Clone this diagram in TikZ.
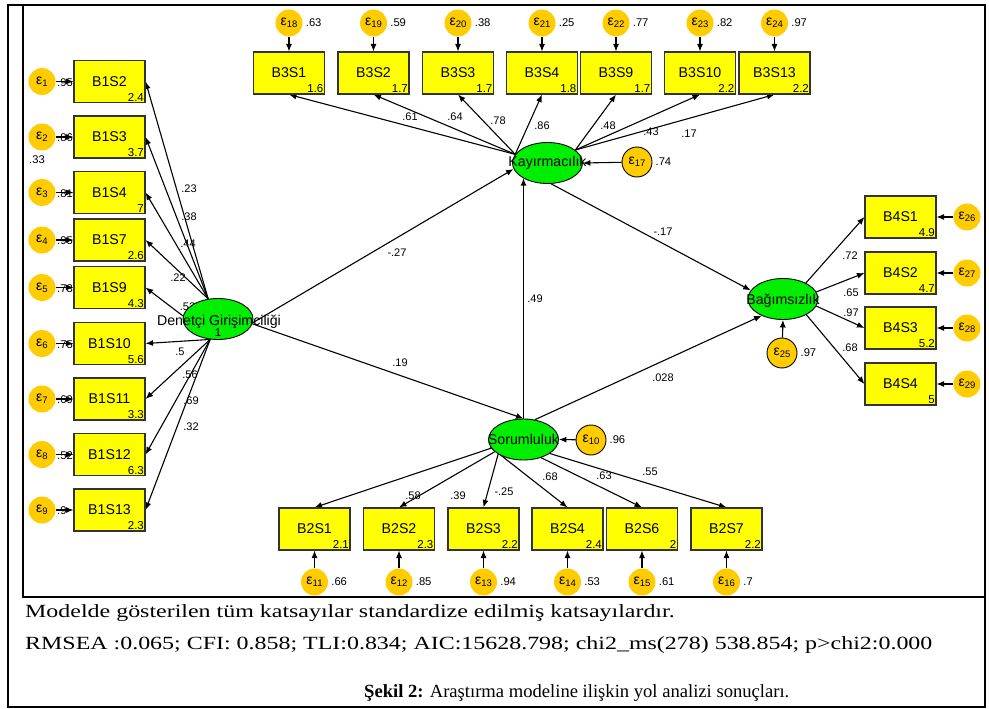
\documentclass[tikz,border=0pt]{standalone}
\usepackage{fontspec}
\usepackage{graphicx}
\setmainfont{Liberation Serif}
\newfontfamily\arialf{Liberation Sans}
\usetikzlibrary{shapes.geometric,arrows.meta}
\pgfdeclarelayer{background}
\pgfsetlayers{background,main}
\definecolor{boxyellow}{RGB}{255,255,0}
\definecolor{latgreen}{RGB}{0,238,0}
\definecolor{epsgold}{RGB}{255,204,0}
\newcommand{\epsn}[1]{{\fontsize{14}{14}\selectfont ε}\raisebox{-2.2pt}{\fontsize{9.5}{9.5}\selectfont #1}}
\begin{document}
\begin{tikzpicture}[x=1pt,y=-1pt,
 obs/.style={draw=black!80,fill=boxyellow,line width=1.1pt,minimum width=71pt,minimum height=42pt,inner sep=0pt,font=\arialf\fontsize{14.2}{14.2}\selectfont},
 mean/.style={anchor=south east,inner sep=1.5pt,font=\arialf\fontsize{11.5}{11.5}\selectfont},
 lat/.style={ellipse,draw=black,fill=latgreen,line width=0.9pt,minimum width=70pt,minimum height=41pt,inner sep=0pt},
 latname/.style={anchor=base,inner sep=0pt,font=\arialf\fontsize{14.2}{14.2}\selectfont},
 eps/.style={circle,fill=epsgold,minimum size=27pt,inner sep=0pt,font=\arialf},
 epsb/.style={eps,draw=black,line width=0.9pt,minimum size=30pt},
 elbl/.style={inner sep=1pt,xshift=2pt,font=\arialf\fontsize{11.2}{11.2}\selectfont},
 plbl/.style={inner sep=0pt,font=\arialf\fontsize{11}{11}\selectfont},
 conn/.style={-{Latex[length=7.5pt,width=6pt]},line width=1.1pt},
 frame/.style={line width=2pt}
]
\useasboundingbox (0,0) rectangle (989,709);

% left column
\foreach \n/\y/\m/\e in {B1S2/81.5/2.4/1, B1S3/137/3.7/2, B1S4/192.5/7/3, B1S7/240/2.6/4, B1S9/287.5/4.3/5, B1S10/343.5/5.6/6, B1S11/399/3.3/7, B1S12/454.5/6.3/8, B1S13/510/2.3/9}
{
 \node[obs,label={[mean]south east:\m}] (\n) at (109.5,\y) {\n};
 \node[eps] (e\e) at (42,\y) {\epsn{\e}};
}
% top row
\foreach \n/\x/\m/\e/\v in {B3S1/289/1.6/18/.63, B3S2/373.5/1.7/19/.59, B3S3/458/1.7/20/.38, B3S4/542/1.8/21/.25, B3S9/616/1.7/22/.77, B3S10/700/2.2/23/.82, B3S13/774.5/2.2/24/.97}
{
 \node[obs,label={[mean]south east:\m}] (\n) at (\x,73) {\n};
 \node[eps,label={[elbl]right:\v}] (e\e) at (\x,23) {\epsn{\e}};
}
% bottom row
\foreach \n/\x/\m/\e/\v in {B2S1/314.5/2.1/11/.66, B2S2/399/2.3/12/.85, B2S3/483.5/2.2/13/.94, B2S4/567.5/2.4/14/.53, B2S6/642/2/15/.61, B2S7/726.5/2.2/16/.7}
{
 \node[obs,label={[mean]south east:\m}] (\n) at (\x,529) {\n};
 \node[eps,label={[elbl]right:\v}] (e\e) at (\x,582) {\epsn{\e}};
}
% right column
\foreach \n/\y/\m/\e in {B4S1/217/4.9/26, B4S2/273/4.7/27, B4S3/328/5.2/28, B4S4/384/5/29}
{
 \node[obs,label={[mean]south east:\m}] (\n) at (900.5,\y) {\n};
 \node[eps] (e\e) at (967,\y) {\epsn{\e}};
}

% latent variables
\node[lat] (D) at (218,319) {};
\node[latname] (Dt) at (219,325) {Denetçi Girişimciliği};
\node[latname,font=\arialf\fontsize{11.5}{11.5}\selectfont] (Dv) at (218,336) {1};
\node[lat] (K) at (547.5,163) {};
\node[latname] (Kt) at (547.5,166.7) {Kayırmacılık};
\node[lat] (B) at (783,299) {};
\node[latname] (Bt) at (783,304) {Bağımsızlık};
\node[lat] (S) at (523.5,439.5) {};
\node[latname] (St) at (523.5,444.5) {Sorumluluk};

% structural errors
\node[epsb,label={[elbl]right:.74}] (e17) at (637,162) {\epsn{17}};
\node[epsb,label={[elbl]right:.97}] (e25) at (782,353) {\epsn{25}};
\node[epsb,label={[elbl]right:.96}] (e10) at (591,440) {\epsn{10}};

\begin{pgfonlayer}{background}
% hidden variance labels on the left
\foreach \y/\v in {81.5/.95, 137/.86, 192.5/.81, 240/.95, 287.5/.73, 343.5/.75, 399/.69, 454.5/.52, 510/.9}
 \node[plbl,anchor=west,font=\arialf\fontsize{11.2}{11.2}\selectfont] at (57,{\y+1}) {\v};
\node[plbl,font=\arialf\fontsize{11.2}{11.2}\selectfont] (x33) at (37,159.5) {.33};

% measurement error arrows
\foreach \i/\n in {1/B1S2,2/B1S3,3/B1S4,4/B1S7,5/B1S9,6/B1S10,7/B1S11,8/B1S12,9/B1S13,
 18/B3S1,19/B3S2,20/B3S3,21/B3S4,22/B3S9,23/B3S10,24/B3S13,
 11/B2S1,12/B2S2,13/B2S3,14/B2S4,15/B2S6,16/B2S7,
 26/B4S1,27/B4S2,28/B4S3,29/B4S4}
 \draw[conn] (e\i) -- (\n);

% loadings
\foreach \n in {B1S2,B1S3,B1S4,B1S7} \draw[conn] (D.116) -- (\n.east);
\draw[conn] (D.175) -- (B1S9.east);
\foreach \n in {B1S10,B1S11,B1S12,B1S13} \draw[conn] (D.249) -- (\n.east);
\foreach \n in {B3S1,B3S2,B3S3,B3S4} \draw[conn] (K.165) -- (\n.south);
\foreach \n in {B3S9,B3S10,B3S13} \draw[conn] (K.25) -- (\n.south);
\draw[conn] (B.35) -- (B4S1.west);
\draw[conn] (B.12) -- (B4S2.west);
\draw[conn] (B.-12) -- (B4S3.west);
\draw[conn] (B.-34) -- (B4S4.west);
\draw[conn] (S.195) -- (B2S1.north);
\draw[conn] (S.203) -- (B2S2.north);
\draw[conn] (S.210) -- (B2S3.north);
\draw[conn] (S.193) -- (B2S4.north);
\draw[conn] (S.314) -- (B2S6.north);
\draw[conn] (S.332) -- (B2S7.north);

% structural paths
\draw[conn] (D.-6) -- (K.190);
\draw[conn] (D.-8) -- (S.north);
\draw[conn] (S.north) -- (S.north |- K.212);
\draw[conn] (K.280) -- (B.165);
\draw[conn] (S.60) -- (B.218);
\draw[conn] (e17) -- (K.east);
\draw[conn] (e25) -- (B.south);
\draw[conn] (e10) -- (S.east);

% path labels
\foreach \x/\y/\t [count=\k] in {189/189/.23, 189/217/.38, 188/244/.44, 178/278/.22, 187.5/307/.52, 180/352/.5, 190/375/.56, 191/401/.69, 191/427/.32,
 410/117/.61, 455/117/.64, 498/121/.78, 542/126/.86, 608/126/.48, 651/132/.43, 689/134/.17,
 397/253/-.27, 400/363/.19, 535/299/.49, 663/232/-.17, 663/378/.028,
 850/256/.72, 851/293/.65, 851/313/.97, 850/348/.68,
 413/496/.58, 458/496/.39, 504/492/-.25, 550/477/.68, 604/476/.63, 650/472/.55}
 \node[plbl] (pl\k) at (\x,\y) {\t};
\end{pgfonlayer}

% frame
\draw[frame] (8.3,5.5) rectangle (984.7,706.5);
\draw[frame] (23.2,5.5) |- (984.7,597);

% caption
\node[anchor=base west,inner sep=0pt,font=\fontsize{18.6}{18.6}\selectfont] (cap1) at (25,617) {\scalebox{1.287}[1]{Modelde gösterilen tüm katsayılar standardize edilmiş katsayılardır.}};
\node[anchor=base west,inner sep=0pt,font=\fontsize{18.6}{18.6}\selectfont] (cap2) at (25,649) {\scalebox{1.287}[1]{RMSEA :0.065; CFI: 0.858; TLI:0.834; AIC:15628.798; chi2\_ms(278) 538.854; p>chi2:0.000}};
\node[anchor=base west,inner sep=0pt,font=\fontsize{18.6}{18.6}\selectfont] (cap3) at (364,697) {\textbf{Şekil 2:} Araştırma modeline ilişkin yol analizi sonuçları.};
\end{tikzpicture}
\end{document}
